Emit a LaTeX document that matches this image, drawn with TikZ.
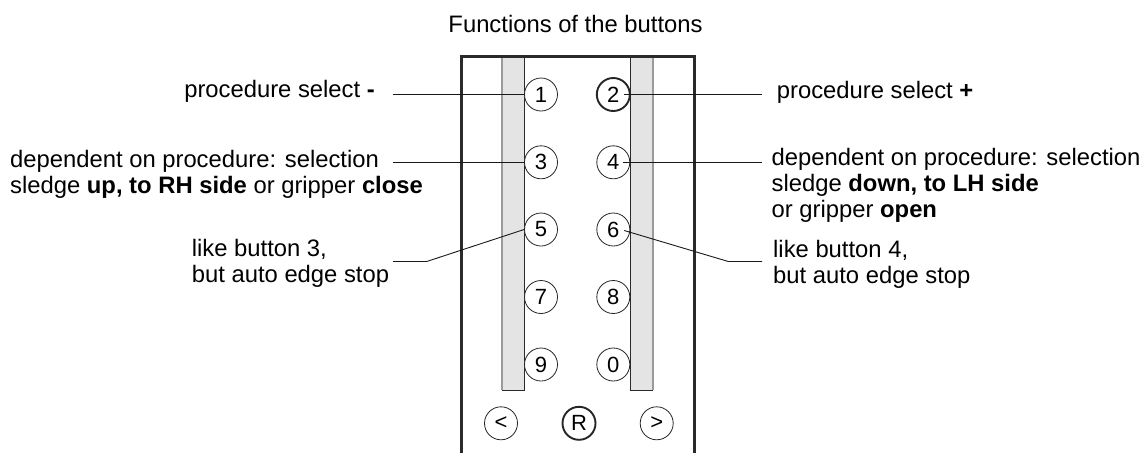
\documentclass[tikz,border=0pt]{standalone}
\usepackage{fontspec}
\setmainfont{Liberation Sans}
\definecolor{framec}{HTML}{2A2A2A}
\definecolor{stripfill}{HTML}{E4E4E4}
\definecolor{stripedge}{HTML}{9A9A9A}
\begin{document}
\begin{tikzpicture}[x=1pt,y=-1pt,
  txt/.style={font=\fontsize{23.8}{26}\selectfont, inner sep=0pt, align=left, text=black},
  btn/.style={circle, draw=black!85, fill=white, line width=0.8pt, minimum size=33pt,
              inner sep=0pt, font=\fontsize{22}{22}\selectfont},
  btnbold/.style={btn, line width=1.9pt},
  lead/.style={draw=black!90, line width=0.9pt},
  frameline/.style={draw=framec, line width=3pt},
  darkedge/.style={draw=framec, line width=1pt},
  lightedge/.style={draw=stripedge, line width=1.2pt}]
\useasboundingbox (0,0) rectangle (1141,453);

% title
\node[txt, anchor=base] (title) at (575.5,32.7) {Functions of the buttons};

% strips
\fill[stripfill] (502,56) rectangle (524,390);
\draw[lightedge] (502,56) -- (502,390);
\draw[darkedge] (524,56) -- (524,390) -- (502,390);
\fill[stripfill] (630,56) rectangle (653,390);
\draw[lightedge] (653,56) -- (653,390);
\draw[darkedge] (630,56) -- (630,390) -- (653,390);

% frame
\draw[frameline] (461,453) -- (461,56) -- (694.5,56) -- (694.5,453);

% buttons
\node[btn]     (b1) at (541,94.5)  {1};
\node[btnbold] (b2) at (613.3,94.5) {2};
\node[btn]     (b3) at (541,162.3) {3};
\node[btn]     (b4) at (613.3,162.3) {4};
\node[btn]     (b5) at (541,229.5) {5};
\node[btn]     (b6) at (613.3,229.5) {6};
\node[btn]     (b7) at (541,297)   {7};
\node[btn]     (b8) at (613.3,297) {8};
\node[btn]     (b9) at (541,364.5) {9};
\node[btn]     (b0) at (613.3,364.5) {0};
\node[btn]     (bl) at (501,423.3) {<};
\node[btnbold] (bR) at (579,423.3) {R};
\node[btn]     (br) at (656.7,423.3) {>};

% labels (multi-line nodes: base anchor = last line's baseline)
\node[txt, anchor=base east] (t1) at (375,97.5) {procedure select \textbf{-}};
\node[txt, anchor=base west] (t2) at (776.7,98.5) {procedure select \textbf{+}};
\node[txt, anchor=base west] (t3) at (10,193) {dependent on procedure: selection\\sledge \textbf{up, to RH side} or gripper \textbf{close}};
\node[txt, anchor=base west] (t4) at (771.5,217.5) {dependent on procedure: selection\\sledge \textbf{down, to LH side}\\or gripper \textbf{open}};
\node[txt, anchor=base west] (t5) at (191.7,282.7) {like button 3,\\but auto edge stop};
\node[txt, anchor=base west] (t6) at (773,283) {like button 4,\\but auto edge stop};

% leaders
\coordinate (l1) at (393,94.5);
\coordinate (r2) at (762,94.5);
\coordinate (l3) at (393,162.3);
\coordinate (r4) at (762,162.3);
\coordinate (l5) at (393,261.5);
\coordinate (k5) at (426.7,261.5);
\coordinate (k6) at (728.3,261.5);
\coordinate (r6) at (762,261.5);
\draw[lead] (l1) -- (b1);
\draw[lead] ([xshift=-7pt]b2.east) -- (r2);
\draw[lead] (l3) -- (b3);
\draw[lead] ([xshift=-7pt]b4.east) -- (r4);
\draw[lead] (l5) -- (k5) -- (b5.west);
\draw[lead] ([xshift=-6pt,yshift=-1pt]b6.east) -- (k6) -- (r6);
\end{tikzpicture}
\end{document}
